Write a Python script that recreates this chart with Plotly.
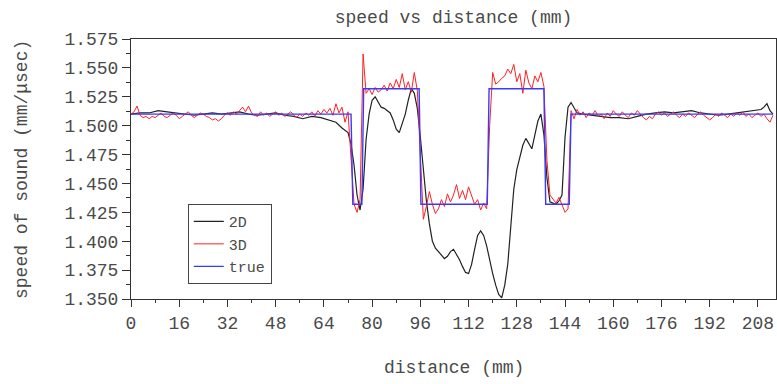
import numpy as np
import plotly.graph_objects as go

# ---------------- data ----------------
# 2D reconstruction (smooth curve)
x_2d = [0, 3, 6, 9, 12, 15, 18, 21, 24, 27, 30, 33, 36, 39, 42, 45, 48, 51, 54, 57, 60, 63, 66, 68,
        70, 71, 72, 73, 74, 75, 76, 77, 78, 79, 80, 81, 82, 83, 84, 85, 86, 87, 88, 89, 90, 91, 92,
        93, 94, 95, 96, 97, 98, 99, 100, 101, 102, 103, 104, 105, 106, 107, 108, 109, 110, 111, 112,
        113, 114, 115, 116, 117, 118, 119, 120, 121, 122, 123, 124, 125, 126, 127, 128, 129, 130,
        131, 132, 133, 134, 135, 136, 137, 138, 139, 140, 141, 142, 143, 144, 145, 146, 147, 148,
        150, 153, 156, 159, 162, 165, 168, 171, 174, 177, 180, 183, 186, 189, 192, 195, 198, 201,
        204, 207, 209, 210, 211, 212, 213]
y_2d = [1.510, 1.511, 1.511, 1.513, 1.512, 1.511, 1.510, 1.509, 1.510, 1.511, 1.510, 1.511, 1.512,
        1.510, 1.509, 1.510, 1.511, 1.509, 1.508, 1.506, 1.508, 1.507, 1.505, 1.503,
        1.498, 1.496, 1.494, 1.484, 1.466, 1.440, 1.427, 1.445, 1.488, 1.510, 1.522, 1.525, 1.520,
        1.516, 1.515, 1.513, 1.511, 1.505, 1.497, 1.494, 1.502, 1.510, 1.522,
        1.532, 1.528, 1.515, 1.490, 1.462, 1.435, 1.415, 1.400, 1.394, 1.391, 1.388, 1.385, 1.387,
        1.391, 1.393, 1.389, 1.384, 1.378, 1.373, 1.372,
        1.380, 1.393, 1.405, 1.409, 1.405, 1.396, 1.383, 1.372, 1.362, 1.354, 1.351, 1.362, 1.380,
        1.415, 1.445, 1.462, 1.474, 1.483,
        1.489, 1.484, 1.480, 1.492, 1.504, 1.510, 1.492, 1.455, 1.434, 1.433, 1.432, 1.435, 1.440,
        1.490, 1.516, 1.520, 1.516, 1.511,
        1.510, 1.509, 1.508, 1.507, 1.507, 1.506, 1.508, 1.510, 1.511, 1.512, 1.511, 1.512, 1.513,
        1.511, 1.510, 1.509, 1.510, 1.511,
        1.512, 1.513, 1.514, 1.516, 1.519, 1.513, 1.510]

# 3D reconstruction (noisy), sampled every 1 mm from 0 to 213
x_3d = list(range(0, 214))
y_3d = [1.510, 1.512, 1.517, 1.509, 1.507, 1.508, 1.506, 1.508, 1.507, 1.509,
        1.511, 1.508, 1.507, 1.509, 1.511, 1.509, 1.506, 1.508, 1.510, 1.512,
        1.509, 1.507, 1.509, 1.511, 1.510, 1.508, 1.507, 1.505, 1.506, 1.504,
        1.506, 1.509, 1.511, 1.509, 1.512, 1.510, 1.513, 1.516, 1.512, 1.517,
        1.511, 1.509, 1.508, 1.512, 1.509, 1.511, 1.508, 1.510, 1.512, 1.509,
        1.511, 1.508, 1.510, 1.512, 1.509, 1.507, 1.510, 1.508, 1.511, 1.509,
        1.512, 1.508, 1.513, 1.510, 1.514, 1.511, 1.515, 1.509, 1.519, 1.511,
        1.516, 1.503, 1.512, 1.470, 1.432, 1.425, 1.436, 1.562, 1.528, 1.532,
        1.527, 1.533, 1.529, 1.531, 1.535, 1.530, 1.537, 1.532, 1.540, 1.533,
        1.545, 1.531, 1.538, 1.529, 1.546, 1.530, 1.480, 1.419, 1.430, 1.443,
        1.432, 1.424, 1.428, 1.436, 1.430, 1.441, 1.434, 1.440, 1.449, 1.437,
        1.444, 1.436, 1.447, 1.439, 1.432, 1.436, 1.427, 1.433, 1.428, 1.500,
        1.546, 1.536, 1.538, 1.541, 1.543, 1.549, 1.545, 1.553, 1.538, 1.545,
        1.528, 1.548, 1.537, 1.532, 1.543, 1.538, 1.546, 1.534, 1.470, 1.440,
        1.437, 1.433, 1.438, 1.431, 1.425, 1.428, 1.513, 1.506, 1.514, 1.509,
        1.512, 1.507, 1.511, 1.509, 1.513, 1.508, 1.510, 1.506, 1.511, 1.508,
        1.513, 1.510, 1.508, 1.512, 1.509, 1.507, 1.511, 1.509, 1.513, 1.510,
        1.507, 1.505, 1.508, 1.506, 1.510, 1.512, 1.509, 1.511, 1.508, 1.510,
        1.512, 1.509, 1.507, 1.510, 1.508, 1.511, 1.509, 1.507, 1.510, 1.512,
        1.509, 1.507, 1.505, 1.507, 1.510, 1.508, 1.511, 1.509, 1.507, 1.510,
        1.508, 1.511, 1.509, 1.512, 1.508, 1.510, 1.507, 1.509, 1.511, 1.508,
        1.510, 1.506, 1.503, 1.509]

# true profile (step function)
x_true = [0, 73, 73.6, 76.6, 77.2, 95.6, 96.2, 118.2, 118.8, 137.0, 137.6, 145.4, 146.0, 213]
y_true = [1.510, 1.510, 1.432, 1.432, 1.532, 1.532, 1.432, 1.432, 1.532, 1.532, 1.432, 1.432,
          1.510, 1.510]

x_ticks = [0, 16, 32, 48, 64, 80, 96, 112, 128, 144, 160, 176, 192, 208]
y_ticks = [1.350, 1.375, 1.400, 1.425, 1.450, 1.475, 1.500, 1.525, 1.550, 1.575]

title_text = "speed vs distance (mm)"
x_title = "distance (mm)"
y_title = "speed of sound (mm/\u03bcsec)"

# ---------------- figure ----------------
FONT = "Courier New, Liberation Mono, monospace"
TXT = "#4a4a4a"
AX = "#333333"

fig = go.Figure()
fig.add_trace(go.Scatter(x=x_2d, y=y_2d, mode="lines", name="2D",
                         line=dict(color="#222222", width=1.2)))
fig.add_trace(go.Scatter(x=x_3d, y=y_3d, mode="lines", name="3D",
                         line=dict(color="#ff2020", width=1)))
fig.add_trace(go.Scatter(x=x_true, y=y_true, mode="lines", name="true",
                         line=dict(color="#3a3aff", width=1.4)))

fig.update_layout(
    width=777, height=384,
    margin=dict(l=131, r=1, t=39, b=85),
    paper_bgcolor="white", plot_bgcolor="white",
    font=dict(family=FONT, size=18, color=TXT),
    title=dict(text=title_text, x=0.5, xref="paper", xanchor="center",
               y=1 - 17 / 384, yanchor="middle",
               font=dict(family=FONT, size=18, color=TXT)),
    showlegend=True,
    legend=dict(x=0.088, y=0.365, xanchor="left", yanchor="top",
                bgcolor="white", bordercolor="#444444", borderwidth=1,
                font=dict(family=FONT, size=15, color=TXT),
                tracegroupgap=0, itemwidth=30),
    xaxis=dict(range=[0, 214], tickvals=x_ticks, ticktext=[str(v) for v in x_ticks],
               showgrid=False, zeroline=False,
               showline=True, linecolor=AX, linewidth=1, mirror=True,
               ticks="outside", ticklen=7, tickcolor=AX, tickwidth=1,
               tickfont=dict(family=FONT, size=18, color=TXT),
               minor=dict(dtick=8, tick0=0, ticks="outside", ticklen=3,
                          tickcolor=AX, showgrid=False)),
    yaxis=dict(range=[1.350, 1.575], tickvals=y_ticks,
               ticktext=[f"{v:.3f}" for v in y_ticks],
               showgrid=False, zeroline=False,
               showline=True, linecolor=AX, linewidth=1, mirror=True,
               ticks="outside", ticklen=8, tickcolor=AX, tickwidth=1,
               tickfont=dict(family=FONT, size=18, color=TXT),
               minor=dict(dtick=0.0125, tick0=1.35, ticks="outside", ticklen=4,
                          tickcolor=AX, showgrid=False)),
    annotations=[
        dict(text=x_title, xref="paper", yref="paper", x=0.5, y=-(368 - 299) / 260,
             xanchor="center", yanchor="middle", showarrow=False,
             font=dict(family=FONT, size=18, color=TXT)),
        dict(text=y_title, xref="paper", yref="paper", x=(22 - 131) / 645, y=0.5,
             xanchor="center", yanchor="middle", showarrow=False, textangle=-90,
             font=dict(family=FONT, size=18, color=TXT)),
    ],
)

fig.write_html("out.html")
